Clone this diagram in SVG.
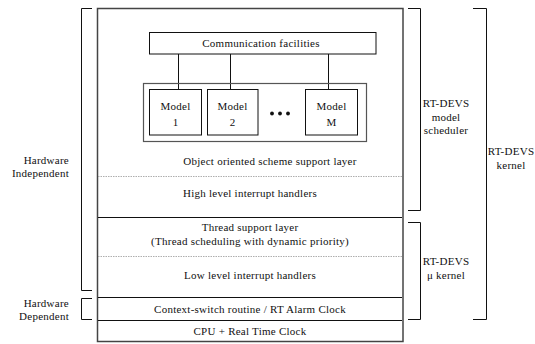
<svg xmlns="http://www.w3.org/2000/svg" width="535" height="344" viewBox="0 0 535 344">
  <style>
    text { font-family: "Liberation Serif", "Times New Roman", serif; font-size: 11px; letter-spacing: 0.25px; fill: #111; }
    .c { text-anchor: middle; }
    .r { text-anchor: end; }
    .box { fill: #fff; stroke: #111; stroke-width: 1; }
    .frame { fill: none; stroke: #444; stroke-width: 1.5; }
    .sep { stroke: #111; stroke-width: 1; }
    .dot { stroke: #999; stroke-width: 0.8; stroke-dasharray: 1.5 1; }
    .br { fill: none; stroke: #111; stroke-width: 1; }
    .wire { stroke: #111; stroke-width: 1; }
  </style>
  <rect width="535" height="344" fill="#fff"/>

  <!-- layered stack frame -->
  <g id="stack">
    <rect class="frame" x="97.5" y="8.5" width="305.5" height="333"/>
    <line class="dot" x1="98" y1="176.5" x2="402" y2="176.5"/>
    <line class="sep" x1="98" y1="217.5" x2="402" y2="217.5"/>
    <line class="dot" x1="98" y1="256.5" x2="402" y2="256.5"/>
    <line class="sep" x1="98" y1="297.5" x2="402" y2="297.5"/>
    <line class="sep" x1="98" y1="320.5" x2="402" y2="320.5"/>
  </g>

  <g id="comm">
    <rect class="box" x="149.5" y="32.5" width="226.5" height="21.5"/>
    <text class="c" x="261" y="47">Communication facilities</text>
  </g>

  <g id="connectors">
    <line class="wire" x1="178.5" y1="54" x2="178.5" y2="89.5"/>
    <line class="wire" x1="230.5" y1="54" x2="230.5" y2="89.5"/>
    <line class="wire" x1="328.5" y1="54" x2="328.5" y2="89.5"/>
  </g>

  <g id="models">
    <rect class="frame" x="143.5" y="83.5" width="223" height="58" style="stroke:#555;stroke-width:1.2"/>
    <g id="model1">
      <rect class="box" x="149.5" y="89.5" width="52" height="45.5"/>
      <text class="c" x="175.5" y="110">Model</text>
      <text class="c" x="175.5" y="126">1</text>
    </g>
    <g id="model2">
      <rect class="box" x="207.5" y="89.5" width="50.5" height="45.5"/>
      <text class="c" x="232.5" y="110">Model</text>
      <text class="c" x="232.5" y="126">2</text>
    </g>
    <g id="dots">
      <circle cx="272" cy="113.5" r="1.9" fill="#111"/>
      <circle cx="280" cy="113.5" r="1.9" fill="#111"/>
      <circle cx="288" cy="113.5" r="1.9" fill="#111"/>
    </g>
    <g id="modelM">
      <rect class="box" x="305.5" y="89.5" width="52" height="45.5"/>
      <text class="c" x="331.5" y="110">Model</text>
      <text class="c" x="331.5" y="126">M</text>
    </g>
  </g>

  <g id="layer-oo"><text class="c" x="270" y="165">Object oriented scheme support layer</text></g>
  <g id="layer-hl"><text class="c" x="250" y="197">High level interrupt handlers</text></g>
  <g id="layer-thread">
    <text class="c" x="250" y="231">Thread support layer</text>
    <text class="c" x="250" y="245">(Thread scheduling with dynamic priority)</text>
  </g>
  <g id="layer-ll"><text class="c" x="250" y="279">Low level interrupt handlers</text></g>
  <g id="layer-cs"><text class="c" x="250" y="313">Context-switch routine / RT Alarm Clock</text></g>
  <g id="layer-cpu"><text class="c" x="250" y="335">CPU + Real Time Clock</text></g>

  <!-- left brackets -->
  <g id="hw-indep">
    <polyline class="br" points="92,8.5 81.5,8.5 81.5,290.5 92,290.5"/>
    <text class="r" x="69" y="164">Hardware</text>
    <text class="r" x="69" y="177">Independent</text>
  </g>
  <g id="hw-dep">
    <polyline class="br" points="92,298.5 81.5,298.5 81.5,319.5 92,319.5"/>
    <text class="r" x="69" y="307">Hardware</text>
    <text class="r" x="69" y="320">Dependent</text>
  </g>

  <!-- right brackets -->
  <g id="model-scheduler">
    <polyline class="br" points="408,8.5 420.5,8.5 420.5,210.5 408,210.5"/>
    <text class="c" x="446" y="107">RT-DEVS</text>
    <text class="c" x="446" y="121">model</text>
    <text class="c" x="446" y="134">scheduler</text>
  </g>
  <g id="micro-kernel">
    <polyline class="br" points="408,222.5 420.5,222.5 420.5,319.5 408,319.5"/>
    <text class="c" x="446" y="265">RT-DEVS</text>
    <text class="c" x="446" y="279">μ kernel</text>
  </g>
  <g id="kernel">
    <polyline class="br" points="473,8.5 486.5,8.5 486.5,319.5 473,319.5"/>
    <text class="c" x="511" y="155">RT-DEVS</text>
    <text class="c" x="511" y="169">kernel</text>
  </g>
</svg>
